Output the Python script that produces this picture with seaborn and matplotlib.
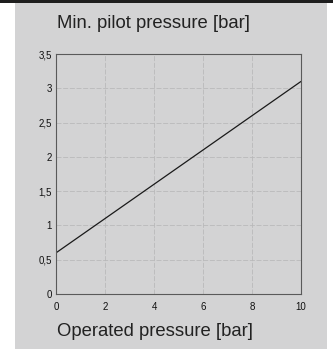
import matplotlib
matplotlib.use("Agg")
import matplotlib.pyplot as plt
import seaborn as sns
import pandas as pd
from matplotlib.patches import Rectangle

# Pilot pressure requirement versus operated pressure
operated_pressure = [0, 10]
min_pilot_pressure = [0.6, 3.1]
x_ticks = [0, 2, 4, 6, 8, 10]
y_ticks = [0, 0.5, 1, 1.5, 2, 2.5, 3, 3.5]
y_tick_labels = ["0", "0,5", "1", "1,5", "2", "2,5", "3", "3,5"]

panel = "#d3d3d4"
sns.set_theme(style="white")
plt.rcParams["font.family"] = ["Liberation Sans", "DejaVu Sans"]

W, H = 333, 349
fig = plt.figure(figsize=(W / 100, H / 100), dpi=100)
fig.patch.set_facecolor("white")

# grey card behind the chart and dark strip along the top
fig.add_artist(Rectangle((15 / W, 0), 312 / W, 1, transform=fig.transFigure,
                         facecolor=panel, edgecolor="none", zorder=0))
fig.add_artist(Rectangle((0, 1 - 3 / H), 1, 3 / H, transform=fig.transFigure,
                         facecolor="#1e1e1e", edgecolor="none", zorder=1))

ax = fig.add_axes([56 / W, (H - 294) / H, (301 - 56) / W, (294 - 54) / H])
ax.set_facecolor(panel)

df = pd.DataFrame({"op": operated_pressure, "pilot": min_pilot_pressure})
sns.lineplot(data=df, x="op", y="pilot", ax=ax, color="#1a1a1a", linewidth=0.9)

ax.set_xlim(0, 10)
ax.set_ylim(0, 3.5)
ax.set_xticks(x_ticks)
ax.set_xticklabels([str(t) for t in x_ticks])
ax.set_yticks(y_ticks)
ax.set_yticklabels(y_tick_labels)
ax.tick_params(axis="both", length=0, labelsize=7, colors="#111111")
ax.tick_params(axis="x", pad=6)
ax.tick_params(axis="y", pad=3)
ax.set_xlabel("")
ax.set_ylabel("")
ax.grid(True, color="#b9b9ba", linestyle=(0, (6, 2)), linewidth=0.6)
for s in ax.spines.values():
    s.set_color("#5a5a5a")
    s.set_linewidth(0.8)

fig.text(57 / W, 1 - 23 / H, "Min. pilot pressure [bar]", fontsize=13.3,
         color="#222222", ha="left", va="center")
fig.text(57 / W, 1 - 331 / H, "Operated pressure [bar]", fontsize=13.3,
         color="#222222", ha="left", va="center")

fig.savefig("out.png", dpi=100, facecolor="white")
